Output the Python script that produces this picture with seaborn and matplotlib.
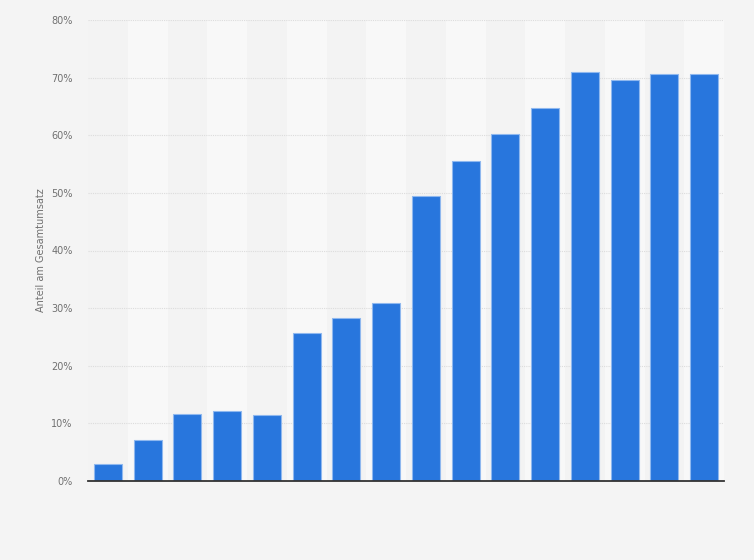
import matplotlib
matplotlib.use("Agg")
import matplotlib.pyplot as plt
import seaborn as sns
import pandas as pd

categories = ["1", "2", "3", "4", "5", "6", "7", "8",
              "9", "10", "11", "12", "13", "14", "15", "16"]
values = [2.9, 7.1, 11.6, 12.1, 11.4, 25.6, 28.2, 30.9,
          49.5, 55.6, 60.2, 64.8, 71.0, 69.6, 70.7, 70.7]
y_ticks = [0, 10, 20, 30, 40, 50, 60, 70, 80]
y_label = "Anteil am Gesamtumsatz"

df = pd.DataFrame({"cat": categories, "val": values})

sns.set_theme(style="white")
plt.rcParams['font.family'] = ['DejaVu Sans']

fig = plt.figure(figsize=(7.54, 5.6), dpi=100, facecolor="#f4f4f4")
ax = fig.add_axes([88/754, 1-481/560, (724-88)/754, (481-20)/560])
ax.set_facecolor("#f3f3f3")

# alternating column stripes
for i in range(len(categories)):
    if i % 2 == 1:
        ax.axvspan(i - 0.5, i + 0.5, color="#f8f8f8", zorder=0, lw=0)

sns.barplot(data=df, x="cat", y="val", ax=ax, color="#2876dd", width=0.7,
            edgecolor="#8fb8ef", linewidth=0.8, saturation=1, zorder=3)

ax.set_ylim(0, 80)
ax.set_xlim(-0.5, len(categories) - 0.5)
ax.set_yticks(y_ticks)
ax.set_yticklabels([f"{t}%" for t in y_ticks], color="#707070", fontsize=7)
ax.set_xticks([])
ax.set_xlabel("")
ax.set_ylabel(y_label, color="#707070", fontsize=7)
ax.yaxis.set_label_coords(-0.066, 0.5)
ax.tick_params(axis="y", length=0, pad=11)

for t in y_ticks[1:]:
    ax.axhline(t, color="#dcdcdc", linestyle=(0, (1, 1)), linewidth=0.8, zorder=1)

for s in ["top", "right", "left"]:
    ax.spines[s].set_visible(False)
ax.spines["bottom"].set_color("#333333")
ax.spines["bottom"].set_linewidth(1.3)
ax.spines["bottom"].set_zorder(5)

fig.savefig("out.png", dpi=100, facecolor=fig.get_facecolor())
